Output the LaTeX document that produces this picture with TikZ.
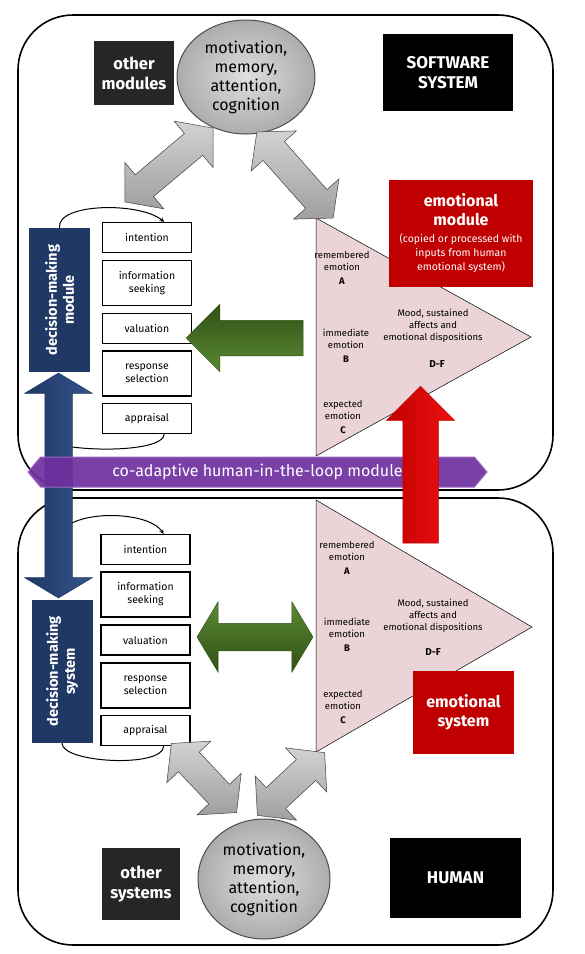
\documentclass[tikz,border=0pt]{standalone}
\usepackage{fontspec}
\setmainfont{Fira Sans}
\usetikzlibrary{shapes.geometric,shapes.arrows,shapes.symbols}

\begin{document}
\begin{tikzpicture}[x=1pt, y=-1pt,
    labelbox/.style={fill=#1, text=white, font=\bfseries\fontsize{16}{19}\selectfont, align=center, inner sep=0pt},
    stepbox/.style={draw=black, line width=1.2pt, fill=white, minimum width=89pt, font=\fontsize{10.5}{13}\selectfont, align=center, inner sep=0pt},
    dmbox/.style={fill=navyBox, text=white, font=\bfseries\fontsize{14.5}{17}\selectfont, align=center, rotate=90, minimum height=61pt, inner sep=0pt},
    brain/.style={ellipse, draw=gray!60!black, line width=1pt, inner color=gray!25, outer color=gray!65, font=\fontsize{16}{19}\selectfont, align=center, inner sep=0pt},
    emotext/.style={font=\fontsize{9.5}{12}\selectfont, align=center, inner sep=0pt},
    grayarrow/.style={double arrow, draw=gray!50!black, line width=0.5pt, top color=gray!35, bottom color=gray!75, inner xsep=0pt, inner ysep=14pt, double arrow head extend=16pt, double arrow tip angle=100},
    loop/.style={->, >=stealth, line width=1pt},
    frame/.style={draw=black, line width=1.6pt, rounded corners=55pt}
]
    % Define colours
    \definecolor{navyBox}{HTML}{1F3864}
    \definecolor{navyLight}{HTML}{34548C}
    \definecolor{redBox}{HTML}{C00000}
    \definecolor{redLight}{HTML}{F01010}
    \definecolor{darkBox}{HTML}{262626}
    \definecolor{pinkFill}{HTML}{EBD4D7}
    \definecolor{greenDark}{HTML}{2F5116}
    \definecolor{greenLight}{HTML}{5B8A32}
    \definecolor{purpleBand}{HTML}{7030A0}
    \definecolor{purpleEdge}{HTML}{9A66C4}

    \useasboundingbox (0,0) rectangle (585,954);

    % Draw the two systems
    \draw[frame] (18,15) rectangle (553,490);
    \draw[frame] (18,498) rectangle (553,945);

    % Draw emotion triangles
    \filldraw[fill=pinkFill, draw=black, line width=0.5pt] (316,218) -- (531,337) -- (316,456) -- cycle;
    \filldraw[fill=pinkFill, draw=black, line width=0.5pt] (316,500) -- (532,627) -- (316,752) -- cycle;

    % Label the emotions
    \node[emotext] (remTop) at (342,268) {remembered\\emotion\\[2pt]\textbf{A}};
    \node[emotext] (immTop) at (346,346) {immediate\\emotion\\[2pt]\textbf{B}};
    \node[emotext] (expTop) at (343,417) {expected\\emotion\\[2pt]\textbf{C}};
    \node[emotext] (moodTop) at (433,326) {Mood, sustained\\affects and\\emotional dispositions};
    \node[emotext, font=\bfseries\fontsize{10}{12}\selectfont] (dfTop) at (437,364) {D-F};
    \node[emotext] (remBot) at (347,558) {remembered\\emotion\\[2pt]\textbf{A}};
    \node[emotext] (immBot) at (347,635) {immediate\\emotion\\[2pt]\textbf{B}};
    \node[emotext] (expBot) at (343,707) {expected\\emotion\\[2pt]\textbf{C}};
    \node[emotext] (moodBot) at (433,616) {Mood, sustained\\affects and\\emotional dispositions};
    \node[emotext, font=\bfseries\fontsize{10}{12}\selectfont] (dfBot) at (433,652) {D-F};

    % Decision steps, software module
    \node[stepbox, minimum height=30pt] (intTop) at (147,237.5) {intention};
    \node[stepbox, minimum height=45pt] (infTop) at (147,283) {information\\seeking};
    \node[stepbox, minimum height=30pt] (valTop) at (147,328.5) {valuation};
    \node[stepbox, minimum height=45pt] (resTop) at (147,373.5) {response\\selection};
    \node[stepbox, minimum height=30pt] (appTop) at (147,418.5) {appraisal};
    \node[dmbox, minimum width=144pt] (dmTop) at (59.5,300) {decision-making\\module};

    % Decision steps, human
    \node[stepbox, minimum height=30pt] (intBot) at (145.5,549.5) {intention};
    \node[stepbox, minimum height=45pt] (infBot) at (145.5,594.5) {information\\seeking};
    \node[stepbox, minimum height=30pt] (valBot) at (145.5,640) {valuation};
    \node[stepbox, minimum height=45pt] (resBot) at (145.5,685.5) {response\\selection};
    \node[stepbox, minimum height=30pt] (appBot) at (145.5,730.5) {appraisal};
    \node[dmbox, minimum width=143pt] (dmBot) at (62,671.5) {decision-making\\system};

    % Loops round the steps
    \coordinate (loopEndTop) at (72,447);
    \coordinate (loopStartBot) at (70,524);
    \draw[loop] (dmTop.east) .. controls +(-3,-25) and +(-24,-20) .. ([xshift=-28pt]intTop.north east);
    \draw[line width=1pt] (loopEndTop) .. controls +(40,5) and +(0,14) .. ([xshift=-28pt]appTop.south east);
    \draw[loop] (loopStartBot) .. controls +(25,-14) and +(-13,-20) .. ([xshift=-27pt]intBot.north east);
    \draw[line width=1pt] (dmBot.west) .. controls +(0,20) and +(0,22) .. ([xshift=-27pt]appBot.south east);

    % Motivation, memory, attention, cognition
    \node[brain, minimum width=138pt, minimum height=114pt] (mmacTop) at (246,77) {motivation,\\memory,\\attention,\\cognition};
    \node[brain, minimum width=132pt, minimum height=120pt] (mmacBot) at (264,879) {motivation,\\memory,\\attention,\\cognition};

    % Grey links
    \node[grayarrow, minimum height=115pt, rotate=40] (linkA) at (169,165) {};
    \node[grayarrow, minimum height=115pt, rotate=-48.5] (linkB) at (295,175) {};
    \node[grayarrow, minimum height=95pt, rotate=-46.7] (linkC) at (204,778) {};
    \node[grayarrow, minimum height=92pt, rotate=43] (linkD) at (291,784) {};

    % Labels
    \node[labelbox=darkBox, minimum width=80pt, minimum height=64pt, font=\bfseries\fontsize{16.5}{20}\selectfont] (otherMod) at (134,73) {other\\modules};
    \node[labelbox=black, minimum width=130pt, minimum height=77pt, font=\bfseries\fontsize{17}{20}\selectfont] (software) at (448,72.5) {SOFTWARE\\SYSTEM};
    \node[labelbox=darkBox, minimum width=78pt, minimum height=72pt, font=\bfseries\fontsize{16.5}{20}\selectfont] (otherSys) at (141,884) {other\\systems};
    \node[labelbox=black, minimum width=131pt, minimum height=80pt, font=\bfseries\fontsize{17}{20}\selectfont] (human) at (455.5,878) {HUMAN};
    \node[labelbox=redBox, minimum width=144pt, minimum height=107pt] (emoMod) at (461,233.5) {emotional\\module\\[-2pt]{\mdseries\fontsize{10.5}{13}\selectfont (copied or processed with}\\[-5pt]{\mdseries\fontsize{10.5}{13}\selectfont inputs from human}\\[-5pt]{\mdseries\fontsize{10.5}{13}\selectfont emotional system)}};
    \node[labelbox=redBox, minimum width=101pt, minimum height=83pt] (emoSys) at (463.5,712.5) {emotional\\system};

    % Green arrows
    \node[single arrow, top color=greenDark, bottom color=greenLight, draw=greenDark, line width=0.5pt, inner xsep=0pt, inner ysep=17.5pt, single arrow head extend=16pt, single arrow tip angle=90, minimum height=117pt, rotate=180] (influence) at (253.5,338) {};
    \node[double arrow, top color=greenLight, bottom color=greenDark, draw=greenDark, line width=0.5pt, inner xsep=0pt, inner ysep=13.5pt, double arrow head extend=21.5pt, double arrow tip angle=118, minimum height=116pt] (interact) at (255,637) {};

    % Blue arrow, band and red arrow
    \node[double arrow, left color=navyBox, right color=navyLight, draw=navyBox, line width=0.5pt, inner xsep=0pt, inner ysep=13.5pt, double arrow head extend=20pt, double arrow tip angle=118, minimum height=225pt, rotate=90] (dmLink) at (58.5,485.5) {};
    \node[signal, signal to=west and east, signal pointer angle=100, fill=purpleBand, fill opacity=0.92, text opacity=1, draw=purpleEdge, line width=1pt, minimum width=459pt, minimum height=30pt, text=white, font=\fontsize{16}{19}\selectfont] (band) at (257.5,472) {co-adaptive human-in-the-loop module};
    \node[single arrow, left color=redBox, right color=redLight, draw=redBox, line width=0.5pt, inner xsep=0pt, inner ysep=17.5pt, single arrow head extend=16.5pt, single arrow tip angle=90, minimum height=157pt, rotate=90] (emoLink) at (420.5,473.5) {};

\end{tikzpicture}
\end{document}
